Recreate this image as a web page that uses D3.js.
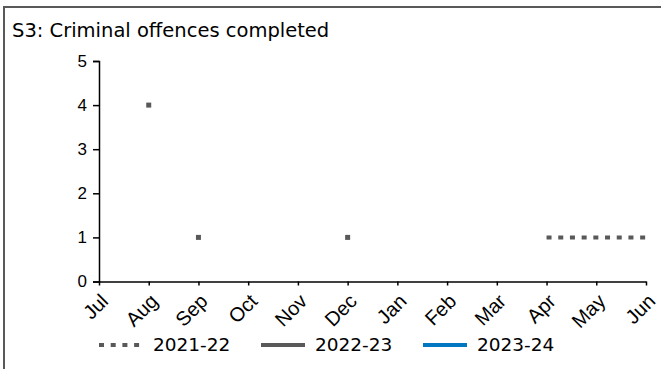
<!DOCTYPE html>
<html>
<head>
<meta charset="utf-8">
<script src="https://cdn.jsdelivr.net/npm/d3@7"></script>
<style>
  body { margin: 0; background: #fff; }
  svg { display: block; font-family: "DejaVu Sans", sans-serif; }
</style>
</head>
<body>
<div id="chart"></div>
<script>
const months = ["Jul", "Aug", "Sep", "Oct", "Nov", "Dec", "Jan", "Feb", "Mar", "Apr", "May", "Jun"];
const yTicks = [0, 1, 2, 3, 4, 5];
// half-month steps from Jul to Jun (index / 2 = month index)
const s2021 = [null, null, 4, null, 1, null, null, null, null, null, 1, null,
               null, null, null, null, null, null, 1, 1, 1, 1, 1];
const s2022 = [];
const s2023 = [];
const seriesNames = ["2021-22", "2022-23", "2023-24"];

const width = 661, height = 369;
const svg = d3.select("#chart").append("svg")
  .attr("width", width)
  .attr("height", height);

// frame
svg.append("rect")
  .attr("x", 4).attr("y", 7)
  .attr("width", 700).attr("height", 400)
  .attr("fill", "none")
  .attr("stroke", "#595959")
  .attr("stroke-width", 2);

svg.append("text")
  .attr("x", 12).attr("y", 37)
  .style("font-size", "19.5px")
  .attr("fill", "#000")
  .text("S3: Criminal offences completed");

const x = d3.scalePoint().domain(months).range([99, 646]);
const xt = d3.scaleLinear().domain([0, months.length - 1]).range([99, 646]);
const y = d3.scaleLinear().domain([0, 5]).range([281.5, 61]);

// y axis
const yAxis = svg.append("g")
  .attr("transform", "translate(99,0)")
  .call(d3.axisLeft(y).tickValues(yTicks).tickSize(6).tickPadding(6).tickFormat(d3.format("d")));
yAxis.select(".domain").attr("stroke", "#000").attr("stroke-width", 1.5);
yAxis.selectAll(".tick line").attr("stroke-width", 1.5);
yAxis.selectAll("text").style("font-size", "17px").attr("fill", "#000");

// x axis
const xAxis = svg.append("g")
  .attr("transform", "translate(0,281.5)")
  .call(d3.axisBottom(x).tickSize(4).tickSizeOuter(0));
xAxis.select(".domain").attr("stroke", "#000").attr("stroke-width", 1.5);
xAxis.selectAll(".tick line").attr("stroke-width", 1.5);
xAxis.selectAll("text")
  .attr("y", 0).attr("dy", 0)
  .attr("transform", "translate(10,21) rotate(-45)")
  .attr("text-anchor", "end")
  .style("font-size", "20px")
  .attr("fill", "#000");

const colors = ["#595959", "#595959", "#0077c0"];
const all = [s2021, s2022, s2023];

const line = d3.line()
  .defined(d => d != null)
  .x((d, i) => xt(i / 2))
  .y(d => y(d));

all.forEach((s, k) => {
  svg.append("path")
    .datum(s)
    .attr("fill", "none")
    .attr("stroke", colors[k])
    .attr("stroke-width", 4)
    .attr("stroke-dasharray", k === 0 ? "5,6.7" : null)
    .attr("d", line);
  // single points with no neighbours show as small squares
  const lone = s.map((v, i) => ({ v, i }))
    .filter(d => d.v != null && s[d.i - 1] == null && s[d.i + 1] == null);
  svg.append("g").selectAll("rect")
    .data(lone)
    .join("rect")
    .attr("x", d => xt(d.i / 2) - 2.5)
    .attr("y", d => y(d.v) - 2.5)
    .attr("width", 5).attr("height", 5)
    .attr("fill", colors[k]);
});

// legend
const legendX = [99, 261, 423];
const legend = svg.append("g");
seriesNames.forEach((name, k) => {
  legend.append("line")
    .attr("x1", legendX[k]).attr("x2", legendX[k] + 44)
    .attr("y1", 345).attr("y2", 345)
    .attr("stroke", colors[k])
    .attr("stroke-width", 4)
    .attr("stroke-dasharray", k === 0 ? "5,6.7" : null);
  legend.append("text")
    .attr("x", legendX[k] + 54).attr("y", 351)
    .style("font-size", "18.5px")
    .attr("fill", "#000")
    .text(name);
});
</script>
</body>
</html>
